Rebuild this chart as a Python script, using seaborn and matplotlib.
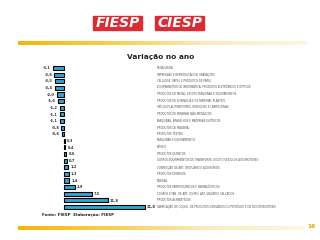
import numpy as np
import pandas as pd
import matplotlib
matplotlib.use("Agg")
import matplotlib.pyplot as plt
import matplotlib.transforms as mtransforms
from matplotlib.colors import LinearSegmentedColormap
from matplotlib.patches import Rectangle
import seaborn as sns

setores = [
    "METALURGIA",
    "IMPRESSÃO E REPRODUÇÃO DE GRAVAÇÕES",
    "CELULOSE, PAPEL E PRODUTOS DE PAPEL",
    "EQUIPAMENTOS DE INFORMÁTICA, PRODUTOS ELETRÔNICOS E ÓPTICOS",
    "PRODUTOS DE METAL, EXCETO MÁQUINAS E EQUIPAMENTOS",
    "PRODUTOS DE BORRACHA E DE MATERIAL PLÁSTICO",
    "VEÍCULOS AUTOMOTORES, REBOQUES E CARROCERIAS",
    "PRODUTOS DE MINERAIS NÃO-METÁLICOS",
    "MÁQUINAS, APARELHOS E MATERIAIS ELÉTRICOS",
    "PRODUTOS DE MADEIRA",
    "PRODUTOS TÊXTEIS",
    "MÁQUINAS E EQUIPAMENTOS",
    "MÓVEIS",
    "PRODUTOS QUÍMICOS",
    "OUTROS EQUIPAMENTOS DE TRANSPORTE, EXCETO VEÍCULOS AUTOMOTORES",
    "CONFECÇÃO DE ART. VESTUÁRIO E ACESSÓRIOS",
    "PRODUTOS DIVERSOS",
    "BEBIDAS",
    "PRODUTOS FARMOQUÍMICOS E FARMACÊUTICOS",
    "COUROS E FAB. DE ART. COURO, ART. VIAGEM E CALÇADOS",
    "PRODUTOS ALIMENTÍCIOS",
    "FABRICAÇÃO DE COQUE, DE PRODUTOS DERIVADOS DO PETRÓLEO E DE BIOCOMBUSTÍVEIS",
]
variacao = [-3.1, -2.6, -2.5, -2.4, -2.0, -1.6, -1.2, -1.1, -1.1, -0.8, -0.6,
            0.3, 0.4, 0.6, 0.7, 1.2, 1.3, 1.4, 2.9, 7.5, 11.8, 21.8]

df = pd.DataFrame({"setor": setores, "variacao": variacao})

sns.set_style("white")
plt.rcParams['font.family'] = ['DejaVu Sans']

W, H = 320, 240
fig = plt.figure(figsize=(W / 100, H / 100), dpi=100)

# camada de decoração em coordenadas de pixel
deco = fig.add_axes([0, 0, 1, 1])
deco.set_xlim(0, W)
deco.set_ylim(H, 0)
deco.axis("off")

gold = LinearSegmentedColormap.from_list("gold", ["#F2B705", "#F7CF52", "#FBEBC0", "#FDF6E3"])
grad = np.linspace(0, 1, 256).reshape(1, -1)
deco.imshow(grad, cmap=gold, extent=(18, 307, 45.5, 42), aspect="auto", zorder=1)
deco.imshow(grad, cmap=gold, extent=(18, 305, 230.5, 227), aspect="auto", zorder=1)

for x0, nome in [(93, "FIESP"), (155, "CIESP")]:
    deco.add_patch(Rectangle((x0, 16), 49, 13.5, color="#DC2B32", zorder=2))
    deco.text(x0 + 24.5, 23, nome, color="white", fontsize=10, fontweight="bold",
              fontstyle="italic", ha="center", va="center", zorder=3)

deco.text(161, 57.5, "Variação no ano", fontsize=5.3, fontweight="bold", color="#222222",
          ha="center", va="center")
deco.text(42, 215, "Fonte: FIESP  Elaboração: FIESP", fontsize=2.9, fontweight="bold",
          color="#222222", ha="left", va="center")
deco.text(312, 227, "16", fontsize=4.2, fontweight="bold", color="#E0A800",
          ha="center", va="center")

# gráfico de barras
ax = fig.add_axes([51 / W, 1 - 210.3 / H, 99 / W, 145.6 / H])
sns.barplot(data=df, x="variacao", y="setor", orient="h", color="#12B4EC",
            edgecolor="black", linewidth=0.8, width=0.62, ax=ax, zorder=3)
ax.set_xlim(-3.51, 23.25)
ax.set_ylim(21.5, -0.5)
ax.axis("off")

for i, v in enumerate(variacao):
    txt = f"{v:.1f}".replace(".", ",")
    if v < 0:
        ax.text(v - 0.5, i, txt, fontsize=2.6, fontweight="bold", color="#333333",
                ha="right", va="center")
    else:
        ax.text(v + 0.6, i, txt, fontsize=2.6, fontweight="bold", color="#333333",
                ha="left", va="center")

trans = mtransforms.blended_transform_factory(fig.transFigure, ax.transData)
for i, s in enumerate(setores):
    ax.text(157 / W, i, s, transform=trans, fontsize=1.9, color="#555555",
            ha="left", va="center", clip_on=False)

fig.savefig("out.png", dpi=100)
